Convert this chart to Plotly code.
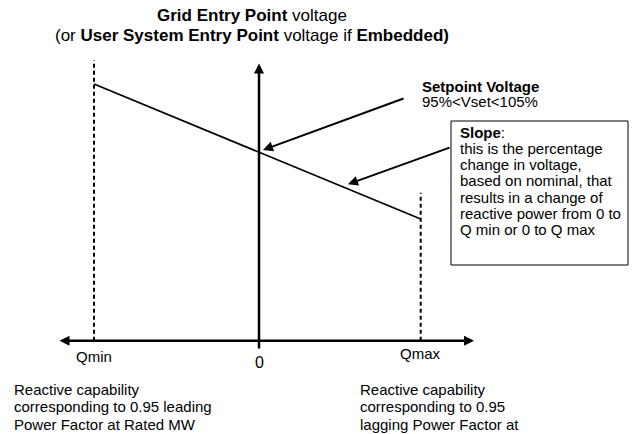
import plotly.graph_objects as go

# ---------------- data ----------------
q_labels = ["Qmin", "0", "Qmax"]          # reactive power points
q_values = [-1.0, 0.0, 0.98]              # reactive power (relative to |Qmin|)
slope_voltage = [1.04, 1.0, 0.9606]       # voltage (pu) on droop line at Qmin, 0, Qmax
limit_line_top = [1.054, 0.976]           # top of dashed Qmin / Qmax limit lines (pu)
v_origin = 0.889                          # voltage level of horizontal axis
v_axis_top = 1.052                        # top of voltage axis arrow
v_axis_bottom = 0.8835
q_axis_ends = [-1.218, 1.303]

title_lines = ["<b>Grid Entry Point</b> voltage",
               "(or <b>User System Entry Point</b> voltage if <b>Embedded)</b>"]
setpoint_lines = ["<b>Setpoint Voltage</b>", "95%&lt;Vset&lt;105%"]
slope_lines = ["<b>Slope</b>:", "this is the percentage", "change in voltage,",
               "based on nominal, that", "results in a change of",
               "reactive power from 0 to", "Q min or 0 to Q max"]
left_note = ["Reactive capability", "corresponding to 0.95 leading",
             "Power Factor at Rated MW"]
right_note = ["Reactive capability", "corresponding to 0.95",
              "lagging Power Factor at", "Rated MW"]

W, H = 632, 434
FONT = "Arial, Liberation Sans, sans-serif"


def px(x):
    return x / W


def py(y):
    return 1 - y / H


fig = go.Figure()

# droop line
fig.add_trace(go.Scatter(x=q_values, y=slope_voltage, mode="lines",
                         line=dict(color="black", width=1.8),
                         hoverinfo="skip", showlegend=False))
# dashed limits
for q, top in zip([q_values[0], q_values[2]], limit_line_top):
    fig.add_trace(go.Scatter(x=[q, q], y=[v_origin, top], mode="lines",
                             line=dict(color="black", width=2, dash="4px,3px"),
                             hoverinfo="skip", showlegend=False))

ann = []
# horizontal axis (double arrow)
ann.append(dict(x=q_axis_ends[1], y=v_origin, ax=q_axis_ends[0], ay=v_origin,
                xref="x", yref="y", axref="x", ayref="y", text="",
                showarrow=True, arrowhead=2, startarrowhead=2, arrowside="end+start",
                arrowwidth=2.5, arrowsize=0.8, startarrowsize=0.8, arrowcolor="black"))
# vertical axis
ann.append(dict(x=0, y=v_axis_top, ax=0, ay=v_axis_bottom,
                xref="x", yref="y", axref="x", ayref="y", text="",
                showarrow=True, arrowhead=2, arrowwidth=2.5, arrowsize=0.8,
                arrowcolor="black"))
# setpoint arrow
ann.append(dict(x=0.024, y=1.0012, ax=0.885, ay=1.0318,
                xref="x", yref="y", axref="x", ayref="y", text="",
                showarrow=True, arrowhead=2, arrowwidth=2, arrowsize=1,
                arrowcolor="black"))
# slope arrow
ann.append(dict(x=0.539, y=0.981, ax=1.164, ay=1.0029,
                xref="x", yref="y", axref="x", ayref="y", text="",
                showarrow=True, arrowhead=2, arrowwidth=2, arrowsize=1,
                arrowcolor="black"))


def txt(text, x, y, anchor="left", size=15, xref="paper"):
    return dict(text=text, x=x, y=py(y), xref=xref, yref="paper",
                xanchor=anchor, yanchor="middle", showarrow=False,
                font=dict(family=FONT, size=size, color="black"))


ann.append(txt(title_lines[0], px(252), 15, "center", size=17))
ann.append(txt(title_lines[1], px(252), 35, "center", size=17))
ann.append(txt(setpoint_lines[0], px(420), 87))
ann.append(txt(setpoint_lines[1], px(420), 101))
for i, s in enumerate(slope_lines):
    ann.append(txt(s, px(458), 132 + i * 16.3))
for i, s in enumerate(left_note):
    ann.append(txt(s, px(12), 389 + i * 17.5))
for i, s in enumerate(right_note):
    ann.append(txt(s, px(358), 389 + i * 17.5))
# axis labels
label_y = [356, 362, 353]
for lab, q, ly in zip(q_labels, q_values, label_y):
    ann.append(txt(lab, q, ly, "center", size=16 if lab == "0" else 15, xref="x"))

fig.update_layout(
    width=W, height=H, margin=dict(l=0, r=0, t=0, b=0),
    paper_bgcolor="white", plot_bgcolor="white",
    xaxis=dict(range=[(0 - 259) / 165, (W - 259) / 165], visible=False, fixedrange=True),
    yaxis=dict(range=[1.0 - (H - 152) / 1700, 1.0 + 152 / 1700], visible=False, fixedrange=True),
    annotations=ann,
    shapes=[dict(type="rect", xref="paper", yref="paper",
                 x0=px(451), x1=px(628), y0=py(121), y1=py(265),
                 line=dict(color="black", width=1))],
    showlegend=False,
)

fig.write_html("out.html", config={"displayModeBar": False},
               post_script="document.body.style.margin='0';document.body.style.overflow='hidden';")
